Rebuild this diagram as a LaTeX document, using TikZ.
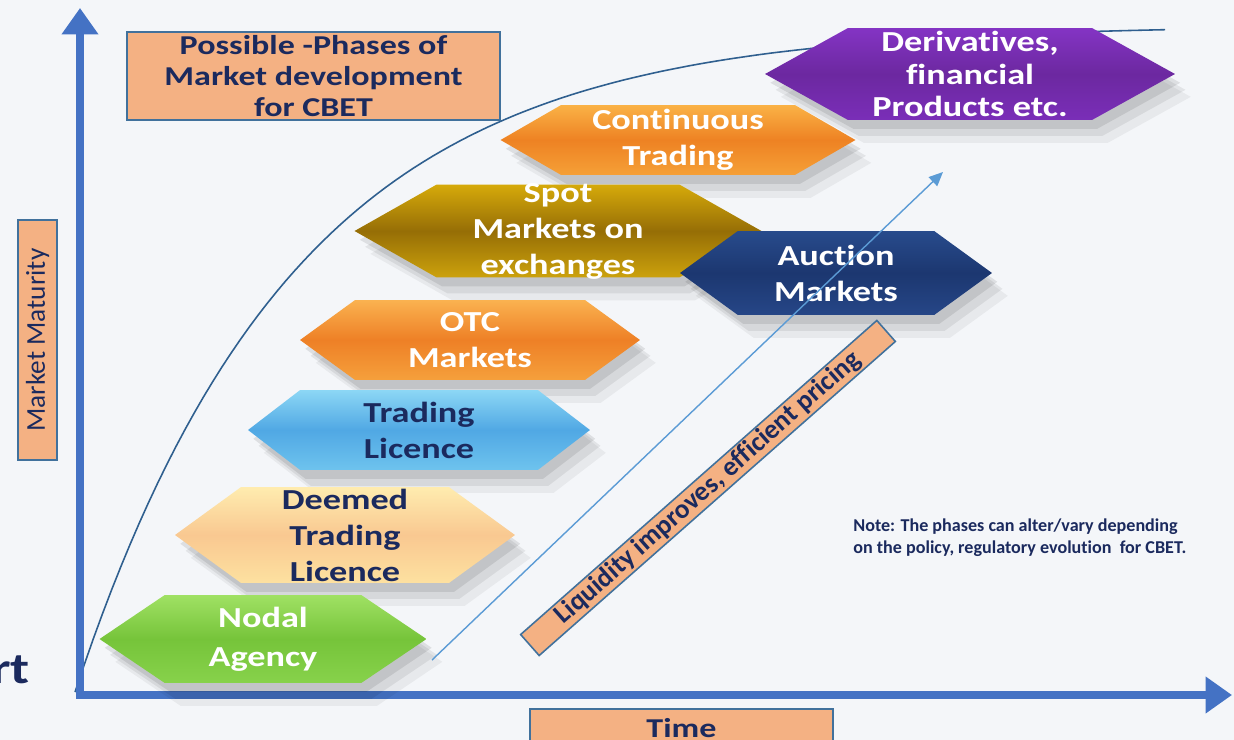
\documentclass[tikz,border=0pt]{standalone}
\usepackage{fontspec}
\setmainfont[FakeStretch=1.25, Ligatures=NoCommon]{Carlito}
\newfontfamily\plainfont[Ligatures=NoCommon]{Carlito}
\usepackage{xcolor}
\usetikzlibrary{shapes.symbols, arrows.meta, shadows}

\definecolor{navytext}{HTML}{1B2A5E}
\definecolor{peach}{HTML}{F4B183}
\definecolor{boxedge}{HTML}{41719C}
\definecolor{axisblue}{HTML}{4472C4}
\definecolor{curveblue}{HTML}{2F5F8F}
\definecolor{arrowblue}{HTML}{5B9BD5}
\definecolor{bgcol}{HTML}{F4F6F9}

\begin{document}
\begin{tikzpicture}[x=0.02cm, y=-0.02cm,
    phase/.style={signal, signal to=west and east, inner sep=0pt, draw=none,
        drop shadow={shadow xshift=3pt, shadow yshift=-5pt, opacity=0.09, fill=black},
        drop shadow={shadow xshift=6pt, shadow yshift=-9pt, opacity=0.07, fill=black},
        drop shadow={shadow xshift=9pt, shadow yshift=-13pt, opacity=0.05, fill=black}},
    phasetext/.style={font=\bfseries\fontsize{16.5}{20.5}\selectfont, align=center},
    peachbox/.style={draw=boxedge, fill=peach, line width=0.9pt, inner sep=0pt},
    axis/.style={draw=axisblue, line width=4pt, line cap=rect,
        -{Triangle[width=20pt, length=15pt]}}
]
    \useasboundingbox (0,0) rectangle (1234,740);
    \fill[bgcol] (0,0) rectangle (1234,740);

    % maturity curve
    \draw[curveblue, line width=0.9pt] plot[domain=75:1165, samples=120]
        (\x, {692 - 667*(1 - exp(-0.00454*(\x - 75)))});

    % axes
    \coordinate (orig) at (80,695);
    \coordinate (ytip) at (80,8);
    \coordinate (xtip) at (1232,695);
    \draw[axis] (orig) -- (ytip);
    \draw[axis] (orig) -- (xtip);

    % phases
    \node[phase, minimum width=8.2cm, minimum height=1.84cm, signal pointer angle=58,
        top color={rgb,255:red,132;green,52;blue,196}, bottom color={rgb,255:red,122;green,46;blue,184}, middle color={rgb,255:red,108;green,40;blue,160},
        label={[phasetext, font=\bfseries\fontsize{16.5}{18.5}\selectfont, text=white]center:Derivatives,\\financial\\Products etc.}] (deriv) at (970,74) {};
    \node[phase, minimum width=7.1cm, minimum height=1.4cm, signal pointer angle=60,
        top color={rgb,255:red,250;green,178;blue,70}, bottom color={rgb,255:red,245;green,160;blue,55}, middle color={rgb,255:red,238;green,130;blue,35},
        label={[phasetext, text=white]center:Continuous\\Trading}] (contin) at (678,140) {};
    \node[phase, minimum width=8.14cm, minimum height=1.86cm, signal pointer angle=59,
        top color={rgb,255:red,214;green,170;blue,10}, bottom color={rgb,255:red,204;green,162;blue,12}, middle color={rgb,255:red,150;green,110;blue,6},
        label={[phasetext, text=white]center:Spot\\Markets on\\exchanges}] (spot) at (558,231) {};
    \node[phase, minimum width=6.24cm, minimum height=1.68cm, signal pointer angle=72,
        top color={rgb,255:red,40;green,75;blue,140}, bottom color={rgb,255:red,38;green,70;blue,135}, middle color={rgb,255:red,28;green,55;blue,112},
        label={[phasetext, text=white]center:Auction\\Markets}] (auction) at (836,273) {};
    \node[phase, minimum width=6.8cm, minimum height=1.6cm, signal pointer angle=72,
        top color={rgb,255:red,250;green,178;blue,80}, bottom color={rgb,255:red,245;green,160;blue,60}, middle color={rgb,255:red,238;green,128;blue,38},
        label={[phasetext, text=white]center:OTC\\Markets}] (otc) at (470,340) {};
    \node[phase, minimum width=6.84cm, minimum height=1.6cm, signal pointer angle=75,
        top color={rgb,255:red,140;green,215;blue,245}, bottom color={rgb,255:red,110;green,195;blue,238}, middle color={rgb,255:red,80;green,168;blue,228},
        label={[phasetext, text=navytext]center:Trading\\Licence}] (tradlic) at (419,430) {};
    \node[phase, minimum width=6.8cm, minimum height=1.92cm, signal pointer angle=72,
        top color={rgb,255:red,255;green,236;blue,175}, bottom color={rgb,255:red,253;green,225;blue,160}, middle color={rgb,255:red,249;green,200;blue,145},
        label={[phasetext, text=navytext]center:Deemed\\Trading\\Licence}] (deemed) at (345,535) {};
    \node[phase, minimum width=6.54cm, minimum height=1.76cm, signal pointer angle=68,
        top color={rgb,255:red,160;green,225;blue,100}, bottom color={rgb,255:red,135;green,210;blue,75}, middle color={rgb,255:red,118;green,196;blue,58},
        label={[phasetext, font=\bfseries\fontsize{16.5}{22}\selectfont, text=white]center:Nodal\\Agency}] (nodal) at (263,639) {};

    % liquidity trend
    \coordinate (liqstart) at (432,660);
    \coordinate (liqend) at (943,172);
    \draw[arrowblue, line width=0.8pt, -{Triangle[width=7pt, length=8pt]}] (liqstart) -- (liqend);
    \node[peachbox, rotate=41.4, minimum width=9.5cm, minimum height=0.56cm,
        font=\plainfont\bfseries\fontsize{15.5}{17}\selectfont, text=navytext] (liquidity) at (708,488)
        {Liquidity improves, efficient pricing};

    % boxes and notes
    \node[peachbox, minimum width=7.46cm, minimum height=1.76cm, align=center, text=navytext,
        font=\bfseries\fontsize{15.5}{17.8}\selectfont] (title) at (313.5,76)
        {Possible -Phases of\\Market development\\for CBET};
    \node[peachbox, rotate=90, minimum width=4.8cm, minimum height=0.78cm, text=navytext,
        font=\plainfont\fontsize{15.5}{18}\selectfont] (maturity) at (37.5,340) {Market Maturity};
    \node[peachbox, minimum width=6.06cm, minimum height=0.76cm, text=navytext,
        font=\bfseries\fontsize{15.5}{18}\selectfont] (time) at (681.5,728) {Time};
    \node[anchor=north west, align=left, inner sep=0pt, text=navytext,
        font=\plainfont\bfseries\fontsize{10.3}{13}\selectfont] (note) at (853,518)
        {Note: The phases can alter/vary depending\\on the policy, regulatory evolution\ \ for CBET.};
    \node[anchor=base east, inner sep=0pt, text=navytext,
        font=\bfseries\fontsize{25}{27}\selectfont] (cut) at (30,683) {rt};
\end{tikzpicture}
\end{document}
